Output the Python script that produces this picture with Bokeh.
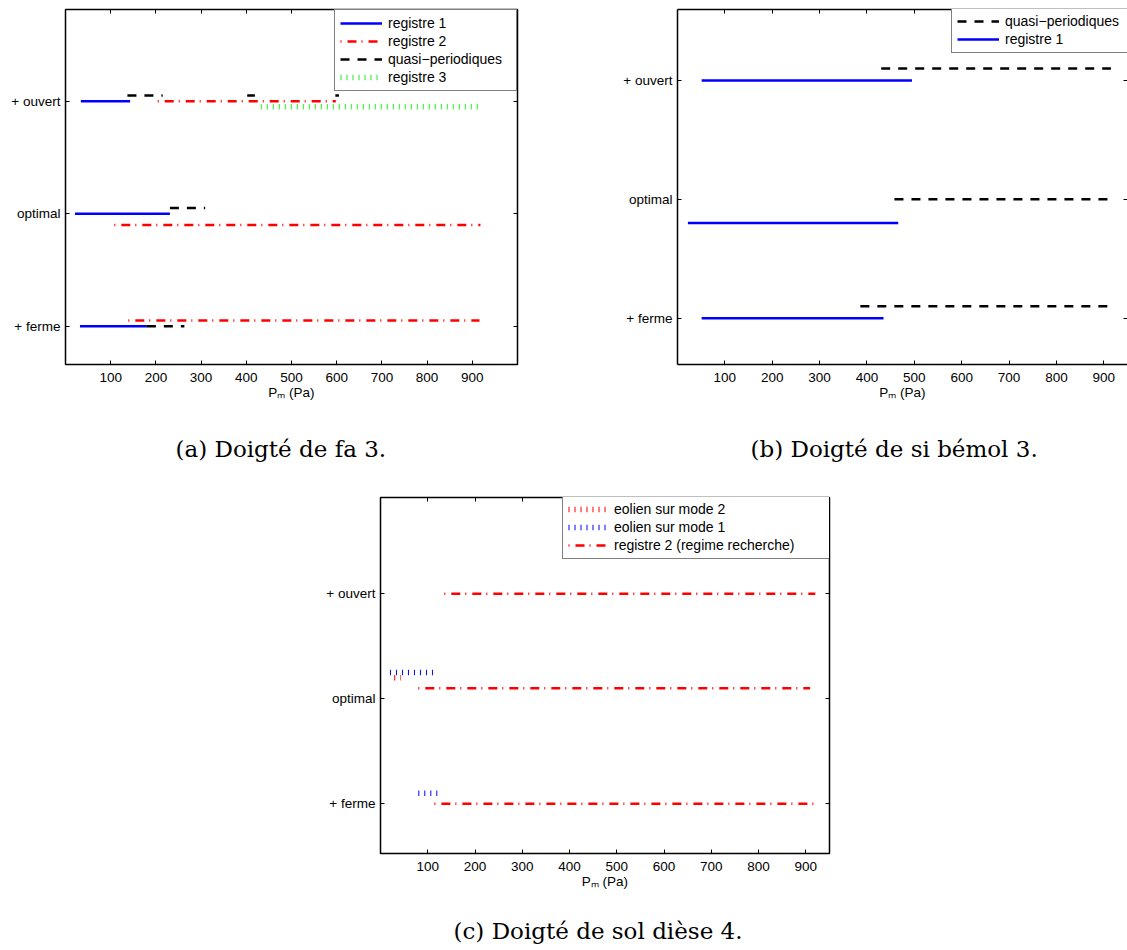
from bokeh.plotting import figure
from bokeh.models import Range1d, FixedTicker, LinearAxis, Legend, LegendItem, Title, ColumnDataSource
from bokeh.layouts import column, row
from bokeh.embed import file_html
from bokeh.resources import INLINE

# ---------------- data ----------------
levels = [1, 2, 3]
level_labels = ["+ ferme", "optimal", "+ ouvert"]
x_ticks = [100, 200, 300, 400, 500, 600, 700, 800, 900]
x_label = "P\u2098 (Pa)"

# (a) Doigté de fa 3
a_reg1_start = [34, 21, 32]
a_reg1_end = [143, 231, 180]
a_reg1_y = [3.0, 2.0, 1.0]
a_reg2_start = [204, 108, 139]
a_reg2_end = [598, 918, 916]
a_reg2_y = [3.0, 1.9, 1.05]
a_quasi_start = [137, 402, 597, 231, 180]
a_quasi_end = [215, 419, 605, 309, 263]
a_quasi_y = [3.05, 3.05, 3.05, 2.05, 1.0]
a_reg3_start = [432]
a_reg3_end = [916]
a_reg3_y = [2.95]

# (b) Doigté de si bémol 3
b_quasi_start = [430, 458, 386]
b_quasi_end = [915, 908, 908]
b_quasi_y = [3.1, 2.0, 1.1]
b_reg1_start = [51, 22, 51]
b_reg1_end = [495, 466, 435]
b_reg1_y = [3.0, 1.8, 1.0]

# (c) Doigté de sol dièse 4
c_eol2_start = [29]
c_eol2_end = [43]
c_eol2_y = [2.2]
c_eol1_start = [20, 80]
c_eol1_end = [112, 121]
c_eol1_y = [2.25, 1.1]
c_reg2_start = [135, 80, 114]
c_reg2_end = [920, 909, 922]
c_reg2_y = [3.0, 2.1, 1.0]

captions = ["(a) Doigté de fa 3.", "(b) Doigté de si bémol 3.", "(c) Doigté de sol dièse 4."]

# ---------------- styles ----------------
BLUE, RED, BLACK, GREEN = "#0000ff", "#ff0000", "#000000", "#22ee22"
SANS = "Liberation Sans"
SERIF = "DejaVu Serif"
STYLE_SOLID = dict(line_width=2.5)
STYLE_DASHDOT = dict(line_width=2.5, line_dash="1 6 9 5")
STYLE_DASH = dict(line_width=2.5, line_dash="9 8")
STYLE_BARS = dict(line_width=5.5, line_dash="1 5", line_cap="butt")


def mirror_axis(ticks, line_col):
    return LinearAxis(ticker=FixedTicker(ticks=[], minor_ticks=ticks),
                      minor_tick_in=4, minor_tick_out=0, minor_tick_line_color="black",
                      major_tick_line_color=None, axis_line_color=line_col, axis_line_width=1.5)


def spacer_axis(size, tick):
    # invisible axis (white tick on white, no labels) that only reserves room above the caption
    return LinearAxis(ticker=FixedTicker(ticks=[tick]), major_tick_out=size, major_tick_in=0,
                      major_label_standoff=0, major_tick_line_color="white",
                      major_label_text_color=None,
                      minor_tick_line_color=None, axis_line_color=None)


def make_fig(w, h, bl, br, bt, bb, xr, yr, caption, cap_offset, cap_gap, closed=True):
    p = figure(width=w, height=h, min_border_left=bl, min_border_right=br,
               min_border_top=bt, min_border_bottom=bb,
               x_range=Range1d(*xr), y_range=Range1d(*yr),
               output_backend="svg", toolbar_location=None)
    p.grid.visible = False
    p.outline_line_color = "black" if closed else None
    p.outline_line_width = 1.5
    p.background_fill_color = "white"
    p.border_fill_color = "white"
    line_col = None if closed else "black"
    for ax in p.xaxis:
        ax.ticker = FixedTicker(ticks=x_ticks)
        ax.major_label_standoff = 8
        ax.axis_label = x_label
        ax.axis_label_text_font = SANS
        ax.axis_label_text_font_size = "13.5px"
        ax.axis_label_text_font_style = "normal"
        ax.axis_label_text_color = "black"
        ax.axis_label_standoff = 0
    for ax in p.yaxis:
        ax.ticker = FixedTicker(ticks=levels)
        ax.major_label_overrides = dict(zip(levels, level_labels))
        ax.major_label_standoff = 5
    for ax in list(p.xaxis) + list(p.yaxis):
        ax.axis_line_color = line_col
        ax.axis_line_width = 1.5
        ax.major_tick_in = 4
        ax.major_tick_out = 0
        ax.minor_tick_line_color = None
        ax.major_label_text_font = SANS
        ax.major_label_text_font_size = "13.5px"
        ax.major_label_text_color = "black"
    p.add_layout(mirror_axis(x_ticks, line_col), "above")
    p.add_layout(mirror_axis(levels, None), "right")
    p.add_layout(spacer_axis(cap_gap, (xr[0] + xr[1]) / 2), "below")
    p.add_layout(Title(text=caption, align="left", offset=cap_offset, standoff=0,
                       text_font=SERIF, text_font_size="23px", text_font_style="normal",
                       text_color="black"), "below")
    return p


def seg(p, x0, x1, y, color, style):
    src = ColumnDataSource(dict(x0=x0, x1=x1, y=y))
    return p.segment(x0="x0", y0="y", x1="x1", y1="y", source=src, line_color=color, **style)


def add_legend(p, items, location, glyph_w, label_w):
    lg = Legend(items=[LegendItem(label=t, renderers=[r]) for t, r in items],
                location=location, padding=5, spacing=2, margin=0,
                glyph_width=glyph_w, glyph_height=16, label_height=16, label_width=label_w,
                label_standoff=6, label_text_font=SANS, label_text_font_size="14px",
                label_text_color="black", border_line_color="black", border_line_width=1.2,
                background_fill_color="white", background_fill_alpha=1.0)
    p.add_layout(lg)


# ---------------- panel (a) ----------------
pa = make_fig(560, 466, 65, 43, 9, 102, (0, 1000), (0.6596, 3.815),
              captions[0], 110, 31)
ra1 = seg(pa, a_reg1_start, a_reg1_end, a_reg1_y, BLUE, STYLE_SOLID)
ra2 = seg(pa, a_reg2_start, a_reg2_end, a_reg2_y, RED, STYLE_DASHDOT)
raq = seg(pa, a_quasi_start, a_quasi_end, a_quasi_y, BLACK, STYLE_DASH)
ra3 = seg(pa, a_reg3_start, a_reg3_end, a_reg3_y, GREEN, STYLE_BARS)
add_legend(pa, [("registre 1", ra1), ("registre 2", ra2), ("quasi\u2212periodiques", raq),
                ("registre 3", ra3)], "top_right", 42, 123)

# ---------------- panel (b) ----------------
pb = make_fig(567, 466, 117, 0, 9, 102, (0, 950), (0.6104, 3.5974),
              captions[1], 73, 31, closed=False)
rbq = seg(pb, b_quasi_start, b_quasi_end, b_quasi_y, BLACK, STYLE_DASH)
rb1 = seg(pb, b_reg1_start, b_reg1_end, b_reg1_y, BLUE, STYLE_SOLID)
add_legend(pb, [("quasi\u2212periodiques", rbq), ("registre 1", rb1)], (274, 311), 42, 123)

# ---------------- panel (c) ----------------
pc = make_fig(1127, 482, 380, 298, 31, 95, (0, 950), (0.5267, 3.917),
              captions[2], 73, 24)
rc2 = seg(pc, c_eol2_start, c_eol2_end, c_eol2_y, RED, STYLE_BARS)
rc1 = seg(pc, c_eol1_start, c_eol1_end, c_eol1_y, BLUE, STYLE_BARS)
rcr = seg(pc, c_reg2_start, c_reg2_end, c_reg2_y, RED, STYLE_DASHDOT)
add_legend(pc, [("eolien sur mode 2", rc2), ("eolien sur mode 1", rc1),
                ("registre 2 (regime recherche)", rcr)], (182, 294), 40, 210)

layout = column(row(pa, pb), pc)
open("out.html", "w").write(file_html(layout, INLINE))
